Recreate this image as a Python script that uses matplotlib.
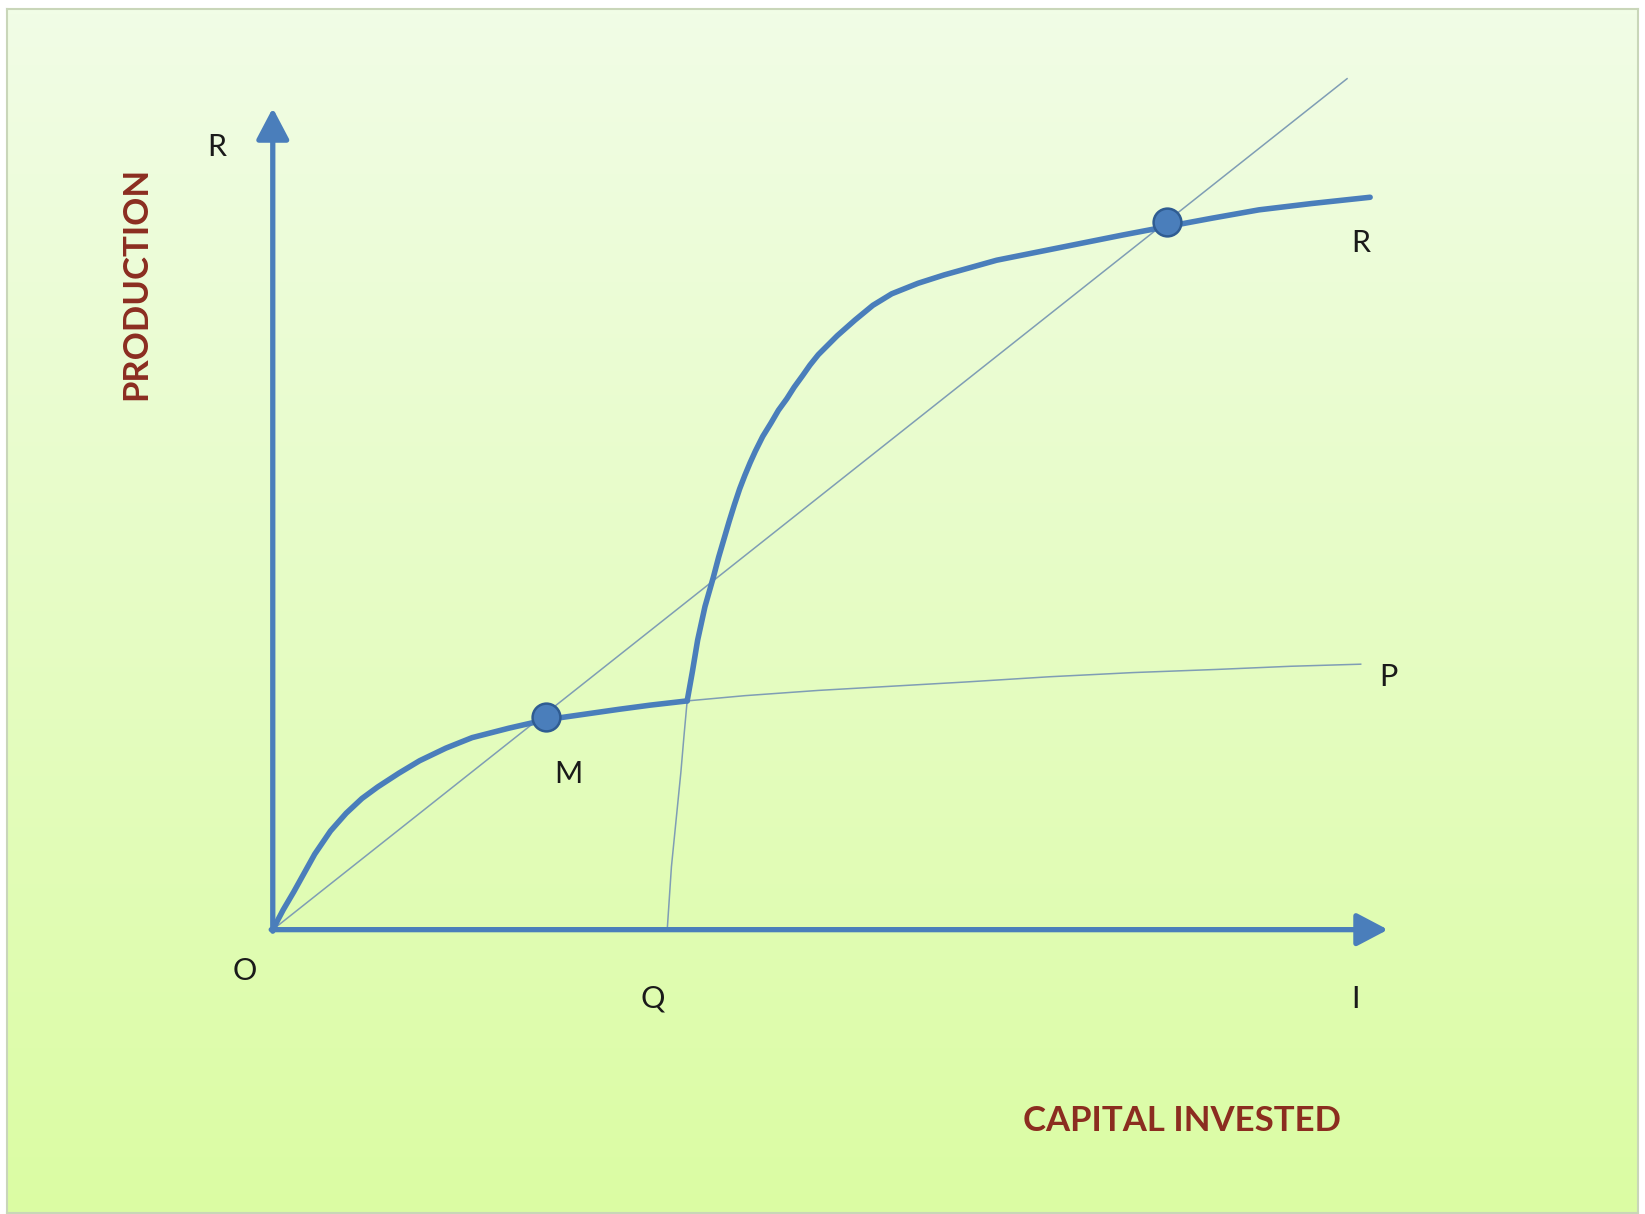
import numpy as np
import matplotlib
matplotlib.use("Agg")
from matplotlib import pyplot as plt

# curve readings, x = capital invested, y = production (arbitrary units)
low_x = [0, 1, 2, 3, 4, 5.5, 7, 8.5, 10, 12, 14, 16.5, 19, 22.5, 26, 29.5, 33, 36, 39.5]
low_y = [0, 1.9, 3.6, 5.4, 7.2, 9.4, 11.1, 12.5, 13.6, 14.9, 16.1, 17.3, 18.3, 19.2, 20.0, 20.5, 21.0, 21.4, 21.8]

p_x = [39.5, 45, 52, 59, 66, 74, 82, 90, 97, 103.7]
p_y = [21.8, 22.3, 22.8, 23.2, 23.6, 24.1, 24.5, 24.8, 25.1, 25.3]

q_x = [37.6, 37.8, 38.0, 38.3, 38.6, 38.9, 39.2, 39.5]
q_y = [0, 3, 6, 9, 12, 15, 18.5, 21.8]

r_x = [39.5, 40.0, 40.5, 41.2, 42.0, 42.5, 43.0, 43.5, 44.0, 44.5, 45.0, 45.5, 46.0, 46.7, 47.5, 48.2, 49.0, 49.7,
       50.5, 51.2, 52.0, 53.8, 55.5, 57.2, 59.0, 61.5, 64.0, 66.5, 69.0, 73.0, 77.0, 81.0, 85.2, 89.5, 94.0, 99.0,
       104.6]
r_y = [21.8, 24.6, 27.6, 30.8, 33.6, 35.5, 37.2, 38.9, 40.5, 42.0, 43.3, 44.5, 45.6, 47.0, 48.3, 49.5, 50.6, 51.7,
       52.8, 53.8, 54.8, 56.6, 58.1, 59.5, 60.6, 61.6, 62.4, 63.1, 63.8, 64.6, 65.4, 66.2, 67.0, 67.8, 68.6, 69.2,
       69.8]

diag_x = [0, 102.4]
diag_y = [0, 81.1]

dots_x = [26.0, 85.2]
dots_y = [20.3, 67.4]

labels = ["R", "R", "P", "M", "O", "Q", "I"]
label_x = [-5.3, 103.7, 106.3, 28.2, -2.7, 36.2, 103.2]
label_y = [74.6, 65.4, 24.1, 14.8, -3.9, -6.6, -6.6]

blue = "#4a7ebb"
thin = "#7f9db5"
brown = "#8b2d20"

fig = plt.figure(figsize=(16.45, 12.14), dpi=100)
fig.patch.set_facecolor("white")

# gradient panel behind everything
W, H = 1645, 1214
bg = fig.add_axes([7 / W, 1 / H, (1638 - 7) / W, (1212 - 8) / H])
top = np.array([241, 253, 230]) / 255
bot = np.array([219, 252, 163]) / 255
t = np.linspace(0, 1, 256)[:, None, None]
grad = top * (1 - t) + bot * t
grad = np.repeat(grad, 2, axis=1)
bg.imshow(grad, aspect="auto", extent=[0, 1, 0, 1])
bg.set_xticks([])
bg.set_yticks([])
for s in bg.spines.values():
    s.set_color("#c9d6b9")
    s.set_linewidth(1.5)

ax = fig.add_axes([0, 0, 1, 1])
ax.patch.set_alpha(0)
ax.set_xlim(-26, 130.8)
ax.set_ylim(-27.1, 88.6)
ax.axis("off")

# thin guide lines
ax.plot(diag_x, diag_y, color=thin, lw=1.1, zorder=2)
ax.plot(p_x, p_y, color=thin, lw=1.1, zorder=2)
ax.plot(q_x, q_y, color=thin, lw=1.1, zorder=2)

# axes arrows
arrow = dict(arrowstyle="-|>,head_length=0.95,head_width=0.5", lw=3.8, color=blue, mutation_scale=20,
             shrinkA=0, shrinkB=0)
ax.annotate("", xy=(106.3, 0), xytext=(-0.15, 0), arrowprops=arrow, zorder=3)
ax.annotate("", xy=(0, 78.3), xytext=(0, -0.15), arrowprops=arrow, zorder=3)

# thick production curves
ax.plot(low_x, low_y, color=blue, lw=4.0, solid_capstyle="round", solid_joinstyle="round", zorder=4)
ax.plot(r_x, r_y, color=blue, lw=4.0, solid_capstyle="round", solid_joinstyle="round", zorder=4)

ax.plot(dots_x, dots_y, "o", ms=20, color=blue, mec="#2f5c92", mew=1.8, zorder=5)

for lab, x, y in zip(labels, label_x, label_y):
    ax.text(x, y, lab, fontsize=22, family="Lato", color="#1a1a1a", ha="center", va="center")

ax.text(86.7, -18.2, "CAPITAL INVESTED", fontsize=25, family="Lato", weight="bold", color=brown,
        ha="center", va="center")
ax.text(-13.0, 61.6, "PRODUCTION", fontsize=25, family="Lato", weight="bold", color=brown,
        ha="center", va="center", rotation=90)

fig.savefig("out.png", dpi=100)
